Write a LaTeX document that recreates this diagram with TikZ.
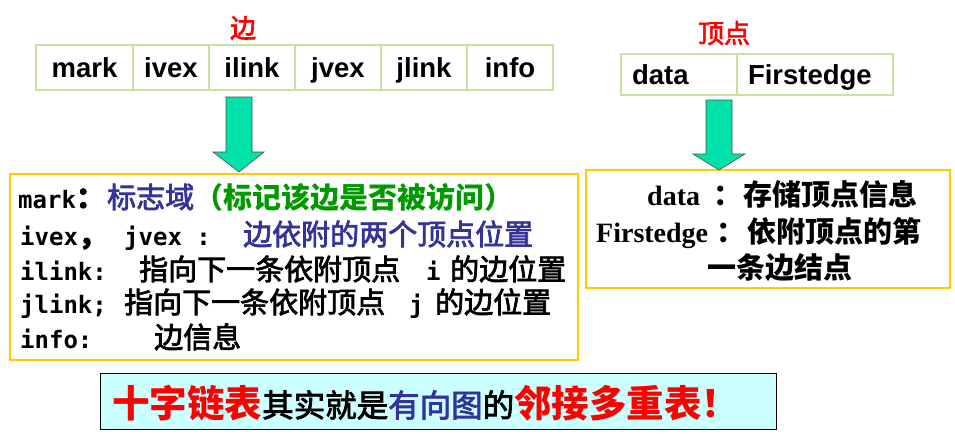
\documentclass[tikz,border=0pt]{standalone}
\usepackage{fontspec}
\newfontfamily\cjk{Noto Sans CJK SC}
\newfontfamily\cjkm[FakeBold=2.5]{Noto Sans CJK SC}
\newfontfamily\mono{DejaVu Sans Mono}
\newfontfamily\arl{Liberation Sans}
\newfontfamily\tms{Liberation Serif}
\newcommand\setfs[1]{\fontsize{#1}{#1}\selectfont}
\definecolor{navy}{RGB}{51,51,153}
\definecolor{grn}{RGB}{0,153,0}
\definecolor{tabgreen}{RGB}{200,226,160}
\definecolor{gold}{RGB}{255,204,0}
\definecolor{arrowfill}{RGB}{0,226,170}
\definecolor{lightcyan}{RGB}{204,255,255}
\tikzset{
  ecell/.style={draw=tabgreen, line width=1.3pt, minimum height=45pt, inner sep=0pt,
    text height=19pt, text depth=0pt, font=\arl\bfseries\setfs{27.5}},
  ybox/.style={draw=gold, line width=1.3pt, inner sep=0pt},
  txt/.style={anchor=base west, inner sep=0pt},
  blockarrow/.style={fill=arrowfill, draw=black!70, line width=0.6pt, line join=miter},
  lbl/.style={text=red, font=\cjkm\setfs{26}, inner sep=0pt}
}
\newcommand\mn{\mono\bfseries\setfs{24}}
\newcommand\ch{\cjkm\setfs{29}}
\begin{document}
\begin{tikzpicture}[x=1pt,y=-1pt]
\useasboundingbox (0,0) rectangle (955,447);
% titles
\node[lbl] (tedge) at (243,28) {边};
\node[lbl] (tvert) at (724,33) {顶点};
% edge table
\node[ecell, minimum width=97pt] (c1) at (84.5,67.5) {mark};
\node[ecell, minimum width=76pt] (c2) at (171,67.5) {ivex};
\node[ecell, minimum width=86pt] (c3) at (252,67.5) {ilink};
\node[ecell, minimum width=86pt] (c4) at (338,67.5) {jvex};
\node[ecell, minimum width=86pt] (c5) at (424,67.5) {jlink};
\node[ecell, minimum width=86pt] (c6) at (510,67.5) {info};
% vertex table
\node[ecell, minimum width=116pt, text width=94pt, align=left, minimum height=41pt] (v1) at (679,74.5) {data};
\node[ecell, minimum width=156pt, text width=134pt, align=left, minimum height=41pt] (v2) at (815,74.5) {Firstedge};
% boxes
\node[ybox, minimum width=568pt, minimum height=186pt] (box1) at (294,267) {};
\node[ybox, minimum width=364pt, minimum height=118pt] (box2) at (768,229) {};
\node[draw=black, fill=lightcyan, line width=1pt, minimum width=676pt, minimum height=56pt, inner sep=0pt] (box3) at (438,401) {};
% block arrows
\draw[blockarrow] (226,97) -- (252,97) -- (252,152) -- (264,152) -- (239,172) -- (213,152) -- (226,152) -- cycle;
\draw[blockarrow] (706,100) -- (732,100) -- (732,154) -- (745,154) -- (719,170) -- (693,154) -- (706,154) -- cycle;
% box 1 text
\node[txt] (l1a) at (18,208) {\mn mark\ch ：};
\node[txt, text=navy] (l1b) at (107,208) {\ch 标志域};
\node[txt, text=grn] (l1c) at (194,208) {\cjk\bfseries\setfs{29}（标记该边是否被访问）};
\node[txt] (l2a) at (20,245) {\mn ivex\ch ，};
\node[txt] (l2b) at (124,245) {\mn jvex :};
\node[txt, text=navy] (l2c) at (243,245) {\ch 边依附的两个顶点位置};
\node[txt] (l3a) at (20,280) {\mn ilink:};
\node[txt] (l3b) at (139,280) {\ch 指向下一条依附顶点};
\node[txt] (l3c) at (426,280) {\mn i};
\node[txt] (l3d) at (450,280) {\ch 的边位置};
\node[txt] (l4a) at (20,313) {\mn jlink;};
\node[txt] (l4b) at (124,313) {\ch 指向下一条依附顶点};
\node[txt] (l4c) at (409,313) {\mn j};
\node[txt] (l4d) at (435,313) {\ch 的边位置};
\node[txt] (l5a) at (20,348) {\mn info:};
\node[txt] (l5b) at (154,348) {\ch 边信息};
% box 2 text
\node[txt] (d1a) at (647,205) {\tms\bfseries\setfs{28}data};
\node[txt] (d1b) at (713,205) {\cjk\bfseries\setfs{29}：};
\node[txt] (d1c) at (743,205) {\cjk\bfseries\setfs{29}存储顶点信息};
\node[txt] (d2a) at (596,242) {\tms\bfseries\setfs{28}Firstedge};
\node[txt] (d2b) at (716,242) {\cjk\bfseries\setfs{29}：};
\node[txt] (d2c) at (747,242) {\cjk\bfseries\setfs{29}依附顶点的第};
\node[txt] (d3a) at (707,278) {\cjk\bfseries\setfs{29}一条边结点};
% bottom text
\node[txt] (bt) at (112,417) {\cjkm\setfs{31.5}{\color{red}\cjk\bfseries\setfs{37.5}十字链表}其实就是{\color{navy}有向图}的{\color{red}\cjk\bfseries\setfs{37.5}邻接多重表！}};
\end{tikzpicture}
\end{document}
